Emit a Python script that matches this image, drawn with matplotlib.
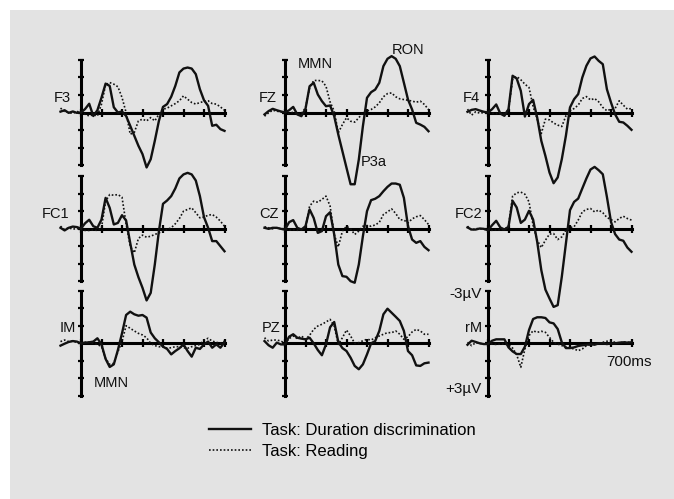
import matplotlib
matplotlib.use('Agg')
import matplotlib.pyplot as plt
from matplotlib.patches import Rectangle

plt.rcParams['font.family'] = ['Liberation Sans', 'DejaVu Sans']

# sampling times (ms), one value every 20 ms from -100 to 700
t_ms = list(range(-100, 701, 20))

# amplitudes in microvolts (negative plotted upwards)
F3_dur = [-0.05, -0.13, 0.02, -0.06, 0.02, 0, -0.2, -0.5, 0.2, -0.13,
          -0.85, -1.65, -1.52, -0.3, 0, -0.06, 0.2, 0.76, 1.33, 1.9,
          2.38, 3.14, 2.67, 1.62, 0.48, -0.32, -0.48, -0.9, -1.52, -2.29,
          -2.51, -2.57, -2.51, -2.19, -1.33, -0.7, -0.38, 0.76, 0.7, 0.95, 1.05]
F3_read = [-0.25, -0.06, 0, 0.05, -0.06, 0, 0.1, 0.2, 0.13, 0.2,
           -0.48, -1.58, -1.71, -1.62, -1.47, -0.86, 0, 1.24, 1.14, 0.48,
           0.38, 0.48, 0.29, 0.48, 0.1, -0.19, -0.25, -0.38, -0.51, -0.67,
           -0.95, -0.76, -0.57, -0.48, -0.57, -0.63, -0.67, -0.51, -0.48, -0.32, -0.13]

FZ_dur = [0.11, -0.08, -0.21, -0.13, -0.06, 0, -0.13, -0.32, 0.11, 0.21,
          -0.21, -1.5, -1.7, -1.03, -0.65, -0.36, -0.4, 0.21, 1.26, 2.21,
          3.16, 4.1, 4.1, 2.69, 0.78, -0.84, -1.16, -1.31, -1.7, -2.65,
          -3.07, -3.22, -3.07, -2.65, -1.7, -0.74, -0.17, 0.59, 0.69, 0.82, 1.07]
FZ_read = [0.21, 0.02, -0.13, -0.08, -0.02, 0, 0.06, -0.02, 0.1, 0.06,
           -0.27, -1.41, -1.83, -1.83, -1.81, -1.5, -0.6, -0.08, 1.16, 0.69,
           0.3, 0.5, 0.55, 0.3, 0.02, -0.08, -0.17, -0.32, -0.55, -0.9,
           -1.08, -1.12, -0.9, -0.78, -0.74, -0.7, -0.65, -0.59, -0.65, -0.46, -0.17]

F4_dur = [-0.04, -0.15, -0.19, -0.11, -0.04, 0, -0.19, -0.46, 0.06, 0.19,
          -0.19, -2.1, -1.94, -1.24, 0.23, -0.48, -0.72, 0.29, 1.62, 2.48,
          3.43, 4.04, 3.71, 2.67, 1.33, -0.29, -0.76, -1.05, -2.0, -2.67,
          -3.09, -3.2, -2.95, -2.76, -1.33, -0.57, 0.1, 0.53, 0.57, 0.76, 0.99]
F4_read = [-0.19, 0.15, -0.04, 0.04, 0, 0.04, 0.04, 0.06, 0.04, 0.06,
           -0.15, -1.9, -2.06, -1.87, -1.62, -1.43, -0.34, 0.38, 1.2, 0.38,
           0.42, 0.6, 0.72, 0.8, 0.19, -0.1, -0.23, -0.42, -0.8, -0.91,
           -0.72, -0.8, -0.61, -0.29, -0.1, -0.19, -0.23, -0.67, -0.42, -0.19, -0.23]

FC1_dur = [-0.04, 0.11, -0.04, -0.11, -0.08, 0, -0.3, -0.5, -0.13, -0.04,
           -0.51, -1.75, -1.18, -0.23, -0.32, -0.76, -0.46, 0.82, 2.06, 2.78,
           3.39, 4.11, 3.68, 2.06, 0.15, -1.41, -1.6, -1.85, -2.29, -2.86,
           -3.09, -3.18, -3.09, -2.74, -1.85, -0.65, -0.04, 0.72, 0.72, 1.01, 1.3]
FC1_read = [-0.13, 0.06, -0.04, 0.04, 0, 0.06, 0.11, 0.11, 0.08, 0.11,
            -0.04, -1.56, -1.94, -1.9, -1.94, -1.79, -0.27, 1.01, 1.39, 0.57,
            0.38, 0.5, 0.44, 0.34, 0.25, 0.15, 0.06, -0.04, -0.27, -0.57,
            -0.99, -1.09, -1.18, -0.9, -0.61, -0.65, -0.76, -0.8, -0.65, -0.42, -0.13]

CZ_dur = [-0.04, 0.02, -0.04, -0.04, 0.02, 0.06, -0.36, -0.48, -0.04, 0.06,
          -0.13, -1.09, -0.6, 0.25, 0.15, -0.7, -0.93, 0.34, 2.06, 2.72,
          2.76, 3.01, 3.1, 2.06, 0.44, -0.99, -1.62, -1.7, -1.85, -2.13,
          -2.38, -2.57, -2.57, -2.5, -1.75, -0.13, 0.63, 0.82, 0.72, 1.05, 1.24]
CZ_read = [-0.1, -0.04, 0.02, -0.04, 0.02, 0.02, 0.1, 0.06, 0.1, 0.06,
           -0.04, -1.28, -1.56, -1.5, -1.66, -1.85, -1.28, 0.34, 1.05, 0.15,
           -0.13, 0.02, 0.34, 0.15, -0.13, -0.17, -0.13, -0.2, -0.35, -0.8,
           -0.95, -1.12, -0.86, -0.51, -0.48, -0.32, -0.55, -0.67, -0.74, -0.51, -0.23]

FC2_dur = [-0.06, 0.06, 0.06, 0, 0.02, 0.1, -0.19, -0.44, -0.06, 0.06,
           -0.1, -1.58, -1.2, -0.32, -0.51, -1.01, -0.51, 0.76, 2.38, 3.49,
           4.0, 4.48, 4.38, 2.76, 0.86, -1.05, -1.52, -1.71, -2.29, -2.86,
           -3.37, -3.52, -3.33, -3.1, -1.81, -0.38, 0.32, 0.63, 0.7, 1.09, 1.33]
FC2_read = [-0.13, 0.1, 0, 0.02, 0.04, 0.1, 0.1, 0.06, 0.08, 0.06,
            -0.13, -1.85, -2.04, -2.08, -1.96, -1.52, -0.19, 0.67, 1.09, 0.67,
            0.32, 0.29, 0.63, 0.48, 0.1, -0.06, -0.1, -0.48, -0.95, -1.09,
            -1.14, -0.95, -1.05, -0.9, -0.63, -0.51, -0.38, -0.57, -0.7, -0.57, -0.48]

IM_dur = [0.15, 0.04, -0.06, -0.11, -0.08, 0.02, -0.02, -0.04, -0.08, -0.27,
          0.08, 0.91, 1.37, 1.22, 0.4, -0.55, -1.6, -1.79, -1.64, -1.56,
          -1.6, -1.45, -0.6, -0.27, -0.04, 0.21, 0.34, 0.65, 0.46, 0.3,
          0.08, 0.46, 0.78, 0.27, 0.34, 0.08, -0.08, 0.27, 0.08, 0.27, -0.04]
IM_read = [-0.08, -0.17, -0.08, -0.11, -0.04, 0.08, -0.04, -0.04, 0.02, 0.08,
           0.21, 0.88, 1.22, 1.16, 0.5, -0.08, -0.99, -0.84, -0.69, -0.55,
           -0.46, -0.3, 0.02, 0.15, 0.21, 0.23, 0.3, 0.27, 0.21, 0.21,
           0.27, 0.3, 0.21, 0.15, 0.08, -0.17, -0.27, -0.11, -0.04, 0.02, -0.11]

PZ_dur = [-0.11, 0.13, 0.27, -0.02, 0.08, 0.08, -0.36, -0.5, -0.3, -0.25,
          -0.21, -0.3, 0.02, 0.4, 0.7, 0.08, -0.9, -1.2, -0.06, 0.29,
          0.46, 0.84, 1.31, 1.5, 1.22, 0.65, 0.02, -0.11, -0.69, -1.64,
          -1.96, -1.73, -1.5, -1.26, -0.69, 0.46, 0.7, 1.28, 1.31, 1.16, 1.12]
PZ_read = [-0.3, -0.11, -0.17, -0.17, -0.11, 0.02, -0.25, -0.4, -0.25, -0.4,
           -0.21, -0.44, -0.78, -0.97, -1.07, -1.2, -1.35, -0.97, 0.08, -0.3,
           -0.74, -0.4, 0.02, -0.02, -0.13, -0.21, -0.17, -0.3, -0.4, -0.5,
           -0.59, -0.59, -0.69, -0.5, -0.21, -0.36, -0.63, -0.78, -0.69, -0.5, -0.5]

rM_dur = [0.1, -0.13, -0.06, 0.02, 0.06, 0.06, -0.13, -0.21, -0.21, -0.21,
          0.25, 0.48, 0.63, 0.63, 0.21, -0.74, -1.37, -1.47, -1.47, -1.43,
          -1.18, -1.12, -0.8, -0.04, 0.29, 0.29, 0.25, 0.17, 0.13, 0.1,
          0.06, 0.1, 0.02, 0.02, 0.06, 0.02, 0.02, -0.02, -0.04, -0.02, -0.04]
rM_read = [-0.04, 0.15, -0.02, 0.02, 0.06, 0.06, 0.06, 0.08, 0.06, 0.06,
           0.1, 0.29, 0.67, 1.39, 0.34, -0.42, -0.7, -0.61, -0.67, -0.61,
           -0.32, -0.04, 0.06, 0.15, 0.21, 0.29, 0.34, 0.44, 0.34, 0.15,
           0.1, 0.06, 0.02, -0.04, -0.1, -0.1, -0.04, 0.02, -0.06, -0.04, -0.04]

panels = [[('F3', F3_dur, F3_read), ('FZ', FZ_dur, FZ_read), ('F4', F4_dur, F4_read)],
          [('FC1', FC1_dur, FC1_read), ('CZ', CZ_dur, CZ_read), ('FC2', FC2_dur, FC2_read)],
          [('IM', IM_dur, IM_read), ('PZ', PZ_dur, PZ_read), ('rM', rM_dur, rM_read)]]

W, H = 674, 499
col_x = [81, 285, 488]      # pixel x of stimulus onset
row_y = [112.5, 228.5, 343]  # pixel y of baseline (from top)
px_ms = 0.205
px_uv = 17.5
ink = '#111111'

# label offsets (px) from the origin of each panel
label_dx = {'F3': -10, 'FZ': -8, 'F4': -8, 'FC1': -12, 'CZ': -6, 'FC2': -6,
            'IM': -5, 'PZ': -5, 'rM': -6}

fig = plt.figure(figsize=(W / 100, H / 100), dpi=100)
fig.patch.set_facecolor('white')
fig.patches.append(Rectangle((10 / W, 0), 1, 1 - 10 / H, transform=fig.transFigure,
                             facecolor='#e3e3e3', edgecolor='none', zorder=-10))

axes = {}
for r, row in enumerate(panels):
    for c, (name, dur, read) in enumerate(row):
        x0, y0 = col_x[c], row_y[r]
        ax = fig.add_axes([(x0 - 130 * px_ms) / W, 1 - (y0 + 5 * px_uv) / H,
                           860 * px_ms / W, 10 * px_uv / H])
        ax.patch.set_alpha(0)
        ax.set_xlim(-130, 730)
        ax.set_ylim(5, -5)
        ax.plot(t_ms, dur, color=ink, lw=1.7, clip_on=False, zorder=3)
        ax.plot(t_ms, read, color=ink, lw=1.2, ls=(0, (1, 1.2)), clip_on=False, zorder=3)
        for s in ['top', 'right']:
            ax.spines[s].set_visible(False)
        ax.spines['left'].set_position(('data', 0))
        ax.spines['bottom'].set_position(('data', 0))
        ax.spines['left'].set_bounds(-3, 3)
        ax.spines['bottom'].set_bounds(0, 700)
        ax.spines['left'].set_linewidth(2.2)
        ax.spines['bottom'].set_linewidth(2.2)
        ax.set_xticks(range(0, 701, 100))
        ax.set_yticks(range(-3, 4))
        ax.tick_params(axis='x', direction='inout', length=6, width=1.6, labelbottom=False)
        ax.tick_params(axis='y', direction='inout', length=5, width=1.6, labelleft=False)
        ax.annotate(name, (0, 0), xytext=(label_dx[name], 14.5), textcoords='offset pixels',
                    ha='right', va='center', fontsize=10.5, color=ink)
        axes[name] = ax

def note(name, txt, dx, dy, ha='left', size=10.5):
    axes[name].annotate(txt, (0, 0), xytext=(dx, dy), textcoords='offset pixels',
                        ha=ha, va='center', fontsize=size, color=ink)

note('FZ', 'MMN', 13, 48)
note('FZ', 'RON', 107, 63)
note('FZ', 'P3a', 76, -50)
note('IM', 'MMN', 13, -40)
note('rM', '-3µV', -6, 49, ha='right', size=11)
note('rM', '+3µV', -6, -46, ha='right', size=11)
note('rM', '700ms', 141, -19, ha='center', size=11)

lines = axes['F3'].get_lines()
fig.legend(lines, ['Task: Duration discrimination', 'Task: Reading'],
           loc='upper left', bbox_to_anchor=(209 / W, 1 - 423 / H),
           frameon=False, fontsize=12, handlelength=2.5, handletextpad=0.7,
           labelspacing=0.35, borderpad=0, borderaxespad=0)

fig.savefig('out.png', dpi=100)
